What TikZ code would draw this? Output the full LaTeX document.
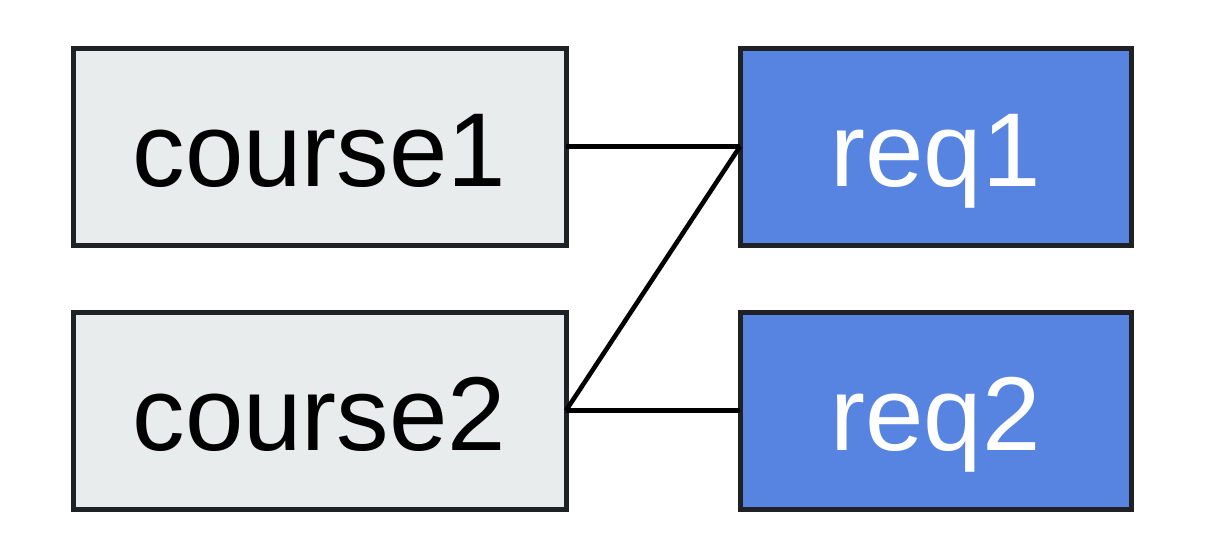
\documentclass[tikz,border=0pt]{standalone}
\usepackage{fontspec}
\setmainfont{Liberation Sans}
\definecolor{coursefill}{HTML}{E8ECEC}
\definecolor{reqfill}{HTML}{5784E0}
\definecolor{edge}{HTML}{202124}
\begin{document}
\begin{tikzpicture}[x=1pt,y=-1pt,
  box/.style={draw=edge, line width=5pt, rectangle, inner sep=0pt, outer sep=0pt,
              minimum height=197pt, text height=80pt, text depth=0pt,
              font=\fontsize{105}{108}\selectfont},
  coursebox/.style={box, fill=coursefill, text=black, minimum width=493pt},
  reqbox/.style={box, fill=reqfill, text=white, minimum width=391pt},
  link/.style={line width=4.6pt, draw=black}]
  \useasboundingbox (0,0) rectangle (1210,552);
  \node[coursebox] (c1) at (319.5,146.5) {course1};
  \node[coursebox] (c2) at (319.5,410.5) {course2};
  \node[reqbox] (r1) at (935.5,146.5) {req1};
  \node[reqbox] (r2) at (935.5,410.5) {req2};
  \draw[link] (c1.east) -- (r1.west);
  \draw[link] (c2.east) -- (r1.west);
  \draw[link] (c2.east) -- (r2.west);
\end{tikzpicture}
\end{document}
